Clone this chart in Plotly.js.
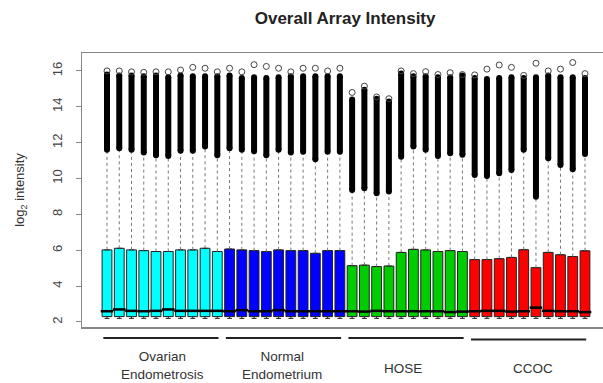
<!DOCTYPE html>
<html>
<head>
<meta charset="utf-8">
<script src="https://cdn.plot.ly/plotly-3.0.1.min.js"></script>
<style>html,body{margin:0;padding:0;background:#fff;}#chart{width:603px;height:383px;}</style>
</head>
<body>
<div id="chart"></div>
<script>
// ---- data ----
const groupNames = ['Ovarian<br>Endometrosis', 'Normal<br>Endometrium', 'HOSE', 'CCOC'];
const groupSizes = [10, 10, 10, 10];

const lowerWhisker = [
  2.2, 2.2, 2.2, 2.2, 2.2, 2.2, 2.2, 2.2, 2.2, 2.2,
  2.2, 2.2, 2.2, 2.2, 2.2, 2.2, 2.2, 2.2, 2.2, 2.2,
  2.2, 2.2, 2.2, 2.2, 2.2, 2.2, 2.2, 2.2, 2.2, 2.2,
  2.2, 2.2, 2.2, 2.2, 2.2, 2.2, 2.2, 2.2, 2.2, 2.2];
const q1 = [
  2.3, 2.3, 2.3, 2.3, 2.3, 2.3, 2.3, 2.3, 2.3, 2.3,
  2.3, 2.3, 2.3, 2.3, 2.3, 2.3, 2.3, 2.3, 2.3, 2.3,
  2.3, 2.3, 2.3, 2.3, 2.3, 2.3, 2.3, 2.3, 2.3, 2.3,
  2.3, 2.3, 2.3, 2.3, 2.3, 2.3, 2.3, 2.3, 2.3, 2.3];
const median = [
  2.60, 2.70, 2.62, 2.60, 2.62, 2.70, 2.62, 2.62, 2.62, 2.62,
  2.60, 2.66, 2.60, 2.60, 2.66, 2.60, 2.60, 2.60, 2.60, 2.60,
  2.60, 2.58, 2.62, 2.60, 2.60, 2.60, 2.60, 2.60, 2.55, 2.58,
  2.60, 2.62, 2.62, 2.58, 2.60, 2.80, 2.62, 2.60, 2.60, 2.55];
const q3 = [
  6.02, 6.11, 6.02, 5.98, 5.93, 5.93, 6.02, 6.02, 6.11, 5.93,
  6.07, 6.02, 5.98, 5.93, 6.02, 5.98, 5.98, 5.83, 5.98, 5.98,
  5.14, 5.17, 5.09, 5.12, 5.88, 6.05, 6.02, 5.93, 5.98, 5.93,
  5.48, 5.48, 5.53, 5.60, 6.03, 5.03, 5.88, 5.75, 5.65, 5.97];
// upper whisker end = start of the dense band of outliers
const upperWhisker = [
  11.60, 11.69, 11.60, 11.45, 11.30, 11.26, 11.55, 11.55, 11.78, 11.30,
  11.69, 11.60, 11.52, 11.30, 11.60, 11.45, 11.50, 11.07, 11.50, 11.50,
  9.36, 9.46, 9.18, 9.27, 11.22, 11.78, 11.60, 11.26, 11.41, 11.32,
  10.20, 10.14, 10.29, 10.48, 11.60, 8.99, 11.13, 10.76, 10.52, 11.37];
const outlierBandTop = [
  15.80, 15.75, 15.75, 15.70, 15.75, 15.65, 15.75, 15.70, 15.70, 15.70,
  15.75, 15.60, 15.65, 15.60, 15.65, 15.70, 15.70, 15.70, 15.70, 15.70,
  14.40, 14.95, 14.45, 14.30, 15.85, 15.70, 15.70, 15.65, 15.65, 15.75,
  15.60, 15.55, 15.60, 15.65, 15.60, 15.65, 15.75, 15.65, 15.65, 15.60];
const topOutlier = [
  16.00, 16.00, 15.95, 15.92, 15.95, 15.95, 16.05, 16.20, 16.15, 15.95,
  16.15, 15.95, 16.35, 16.25, 16.15, 15.95, 16.15, 16.15, 16.00, 16.15,
  14.80, 15.15, 14.55, 14.45, 16.00, 15.85, 15.96, 15.80, 15.90, 15.80,
  15.78, 16.10, 16.33, 16.20, 15.75, 16.43, 16.00, 16.10, 16.47, 15.85];
const yTicks = [2, 4, 6, 8, 10, 12, 14, 16];

// ---- drawing ----
const colors = ['#00FFFF', '#0000FF', '#00CD00', '#FF0000'];
const traces = [];
const shapes = [];
const annotations = [];
let start = 0;
groupSizes.forEach((n, g) => {
  const idx = Array.from({length: n}, (_, k) => start + k);
  const pos = idx.map(i => i + 1);
  traces.push({
    type: 'box', x: pos,
    q1: idx.map(i => q1[i]), median: idx.map(i => median[i]), q3: idx.map(i => q3[i]),
    lowerfence: idx.map(i => lowerWhisker[i]), upperfence: idx.map(i => q3[i]),
    fillcolor: colors[g], line: {color: '#222', width: 1}, width: 0.8,
    boxpoints: false, hoverinfo: 'skip'
  });
  const lo = pos[0] - 0.5, hi = pos[n - 1] + 0.5;
  shapes.push({type: 'line', xref: 'x', yref: 'paper', x0: lo + 0.2, x1: hi - 0.4,
    y0: g === 3 ? -0.046 : -0.04, y1: g === 3 ? -0.046 : -0.04, line: {color: '#222', width: 2}});
  const xshift = [0, -3, -4, 3][g];
  annotations.push({xref: 'x', yref: 'paper', x: (pos[0] + pos[n - 1]) / 2, xshift: xshift,
    y: groupNames[g].includes('<br>') ? -0.142 : -0.153, yanchor: 'middle', showarrow: false,
    text: groupNames[g], font: {size: 13.5, color: '#333', family: 'Liberation Sans, Arial, sans-serif'}});
  start += n;
});

const N = q3.length;
const wx = [], wy = [], bx = [], by = [], ex = [], ey = [], mx = [], my = [], ox = [], oy = [];
for (let i = 0; i < N; i++) {
  const p = i + 1;
  wx.push(p, p, null); wy.push(q3[i], upperWhisker[i], null);
  bx.push(p, p, null); by.push(upperWhisker[i], outlierBandTop[i], null);
  ex.push(p, p); ey.push(upperWhisker[i], outlierBandTop[i]);
  mx.push(p); my.push(median[i]);
  ox.push(p); oy.push(topOutlier[i]);
}
traces.push({type: 'scatter', mode: 'lines', x: wx, y: wy, hoverinfo: 'skip',
  line: {color: '#777', width: 1, dash: '3px,3px'}});
traces.push({type: 'scatter', mode: 'lines', x: bx, y: by, hoverinfo: 'skip',
  line: {color: '#000', width: 6}});
traces.push({type: 'scatter', mode: 'markers', x: ex, y: ey, hoverinfo: 'skip',
  marker: {color: '#000', size: 6, line: {width: 0}}});
traces.push({type: 'scatter', mode: 'markers', x: ox, y: oy, hoverinfo: 'skip',
  marker: {symbol: 'circle-open', color: '#444', size: 6, line: {width: 1, color: '#444'}}});
traces.push({type: 'scatter', mode: 'markers', x: mx, y: my, hoverinfo: 'skip',
  marker: {symbol: 'line-ew', size: 9, color: '#000', line: {width: 2.5, color: '#000'}}});

const layout = {
  width: 603, height: 383,
  margin: {l: 82, r: 0, t: 53, b: 56},
  paper_bgcolor: '#fff', plot_bgcolor: '#fff',
  showlegend: false,
  font: {family: 'Liberation Sans, Arial, sans-serif', color: '#333'},
  title: {text: '<b>Overall Array Intensity</b>', x: 0.505, xref: 'paper', y: 1 - 18 / 383, yref: 'container',
    yanchor: 'middle', font: {size: 17, color: '#222'}},
  xaxis: {range: [-1.04, 41.47], showgrid: false, zeroline: false, showticklabels: false, ticks: '',
    showline: true, mirror: true, linecolor: '#888', linewidth: 1.5},
  yaxis: {range: [1.72, 17.0], tickvals: yTicks, ticktext: yTicks.map(String), showgrid: false, zeroline: false,
    ticks: 'outside', ticklen: 5, tickcolor: '#888', tickangle: -90, ticklabelstandoff: 8,
    tickfont: {size: 13, color: '#444'}, showline: true, linecolor: '#888', linewidth: 1.5,
    title: {text: 'log<sub>2</sub> intensity', font: {size: 13, color: '#333'}, standoff: 22}},
  shapes: shapes,
  annotations: annotations
};
Plotly.newPlot('chart', traces, layout, {displayModeBar: false, staticPlot: true});
</script>
</body>
</html>
